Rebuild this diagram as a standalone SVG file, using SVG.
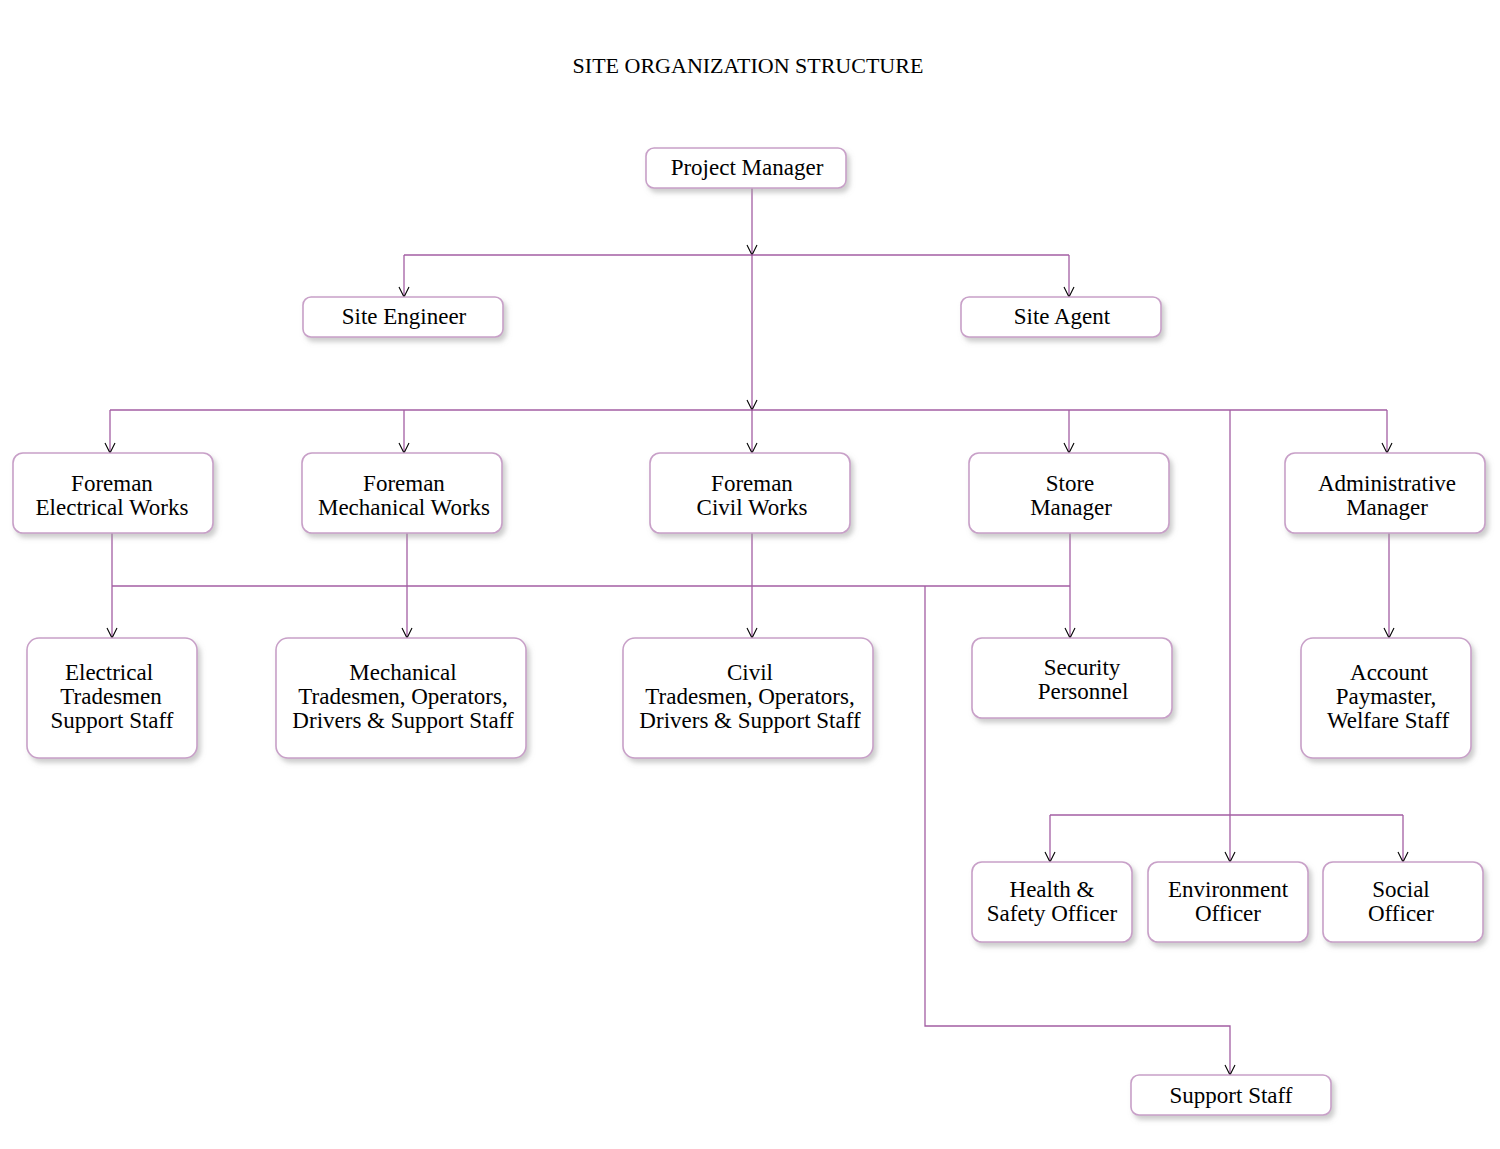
<svg xmlns="http://www.w3.org/2000/svg" width="1500" height="1149" viewBox="0 0 1500 1149">
<style>
.box{fill:#fff;stroke:#c8a0c8;stroke-width:1.6;filter:url(#sh)}
.t{font-family:"Liberation Serif","DejaVu Serif",serif;font-size:23px;fill:#000;text-anchor:middle}
.c{fill:none;stroke:#a35ea3;stroke-width:1.3}
</style>
<defs>
<filter id="sh" x="-10%" y="-20%" width="130%" height="150%">
<feDropShadow dx="3" dy="4" stdDeviation="2.5" flood-color="#999" flood-opacity="0.5"/>
</filter>
<marker id="ar" viewBox="0 0 12 12" refX="11" refY="6" markerWidth="12" markerHeight="12" markerUnits="userSpaceOnUse" orient="auto">
<path d="M1,1 L11,6 L1,11" fill="none" stroke="#000" stroke-width="1.1"/>
</marker>
</defs>
<rect width="1500" height="1149" fill="#fff"/>
<text x="748" y="73" class="t" style="font-size:22px">SITE ORGANIZATION STRUCTURE</text>

<g id="connectors">
<path class="c" d="M752,188 V255" marker-end="url(#ar)"/>
<path class="c" d="M752,255 V410" marker-end="url(#ar)"/>
<path class="c" d="M752,410 V453" marker-end="url(#ar)"/>
<path class="c" d="M404,255 H1069"/>
<path class="c" d="M404,255 V297" marker-end="url(#ar)"/>
<path class="c" d="M1069,255 V297" marker-end="url(#ar)"/>
<path class="c" d="M110,410 H1387"/>
<path class="c" d="M110,410 V453" marker-end="url(#ar)"/>
<path class="c" d="M404,410 V453" marker-end="url(#ar)"/>
<path class="c" d="M1069,410 V453" marker-end="url(#ar)"/>
<path class="c" d="M1387,410 V453" marker-end="url(#ar)"/>
<path class="c" d="M1230,410 V862" marker-end="url(#ar)"/>
<path class="c" d="M1050,815 H1403"/>
<path class="c" d="M1050,815 V862" marker-end="url(#ar)"/>
<path class="c" d="M1403,815 V862" marker-end="url(#ar)"/>
<path class="c" d="M112,533 V638" marker-end="url(#ar)"/>
<path class="c" d="M407,533 V638" marker-end="url(#ar)"/>
<path class="c" d="M752,533 V638" marker-end="url(#ar)"/>
<path class="c" d="M1070,533 V638" marker-end="url(#ar)"/>
<path class="c" d="M1389,533 V638" marker-end="url(#ar)"/>
<path class="c" d="M112,586 H1070"/>
<path class="c" d="M925,586 V1026 H1230 V1075" marker-end="url(#ar)"/>
</g>

<g id="project-manager"><rect class="box" x="646" y="148" width="200" height="40" rx="8"/><text class="t" x="747" y="175">Project Manager</text></g>
<g id="site-engineer"><rect class="box" x="303" y="297" width="200" height="40" rx="8"/><text class="t" x="404" y="324">Site Engineer</text></g>
<g id="site-agent"><rect class="box" x="961" y="297" width="200" height="40" rx="8"/><text class="t" x="1062" y="324">Site Agent</text></g>

<g id="foreman-electrical"><rect class="box" x="13" y="453" width="200" height="80" rx="10"/><text class="t" x="112" y="491">Foreman</text><text class="t" x="112" y="515">Electrical Works</text></g>
<g id="foreman-mechanical"><rect class="box" x="302" y="453" width="200" height="80" rx="10"/><text class="t" x="404" y="491">Foreman</text><text class="t" x="404" y="515">Mechanical Works</text></g>
<g id="foreman-civil"><rect class="box" x="650" y="453" width="200" height="80" rx="10"/><text class="t" x="752" y="491">Foreman</text><text class="t" x="752" y="515">Civil Works</text></g>
<g id="store-manager"><rect class="box" x="969" y="453" width="200" height="80" rx="10"/><text class="t" x="1070" y="491">Store</text><text class="t" x="1071" y="515">Manager</text></g>
<g id="admin-manager"><rect class="box" x="1285" y="453" width="200" height="80" rx="10"/><text class="t" x="1387" y="491">Administrative</text><text class="t" x="1387" y="515">Manager</text></g>

<g id="electrical-staff"><rect class="box" x="27" y="638" width="170" height="120" rx="12"/><text class="t" x="109" y="680">Electrical</text><text class="t" x="111" y="704">Tradesmen</text><text class="t" x="112" y="728">Support Staff</text></g>
<g id="mechanical-staff"><rect class="box" x="276" y="638" width="250" height="120" rx="12"/><text class="t" x="403" y="680">Mechanical</text><text class="t" x="403" y="704">Tradesmen, Operators,</text><text class="t" x="403" y="728">Drivers &amp; Support Staff</text></g>
<g id="civil-staff"><rect class="box" x="623" y="638" width="250" height="120" rx="12"/><text class="t" x="750" y="680">Civil</text><text class="t" x="750" y="704">Tradesmen, Operators,</text><text class="t" x="750" y="728">Drivers &amp; Support Staff</text></g>
<g id="security"><rect class="box" x="972" y="638" width="200" height="80" rx="10"/><text class="t" x="1082" y="675">Security</text><text class="t" x="1083" y="699">Personnel</text></g>
<g id="account"><rect class="box" x="1301" y="638" width="170" height="120" rx="12"/><text class="t" x="1389" y="680">Account</text><text class="t" x="1386" y="704">Paymaster,</text><text class="t" x="1388" y="728">Welfare Staff</text></g>

<g id="health-safety"><rect class="box" x="972" y="862" width="160" height="80" rx="10"/><text class="t" x="1052" y="897">Health &amp;</text><text class="t" x="1052" y="921">Safety Officer</text></g>
<g id="environment"><rect class="box" x="1148" y="862" width="160" height="80" rx="10"/><text class="t" x="1228" y="897">Environment</text><text class="t" x="1228" y="921">Officer</text></g>
<g id="social"><rect class="box" x="1323" y="862" width="160" height="80" rx="10"/><text class="t" x="1401" y="897">Social</text><text class="t" x="1401" y="921">Officer</text></g>

<g id="support-staff"><rect class="box" x="1131" y="1075" width="200" height="40" rx="8"/><text class="t" x="1231" y="1103">Support Staff</text></g>
</svg>
